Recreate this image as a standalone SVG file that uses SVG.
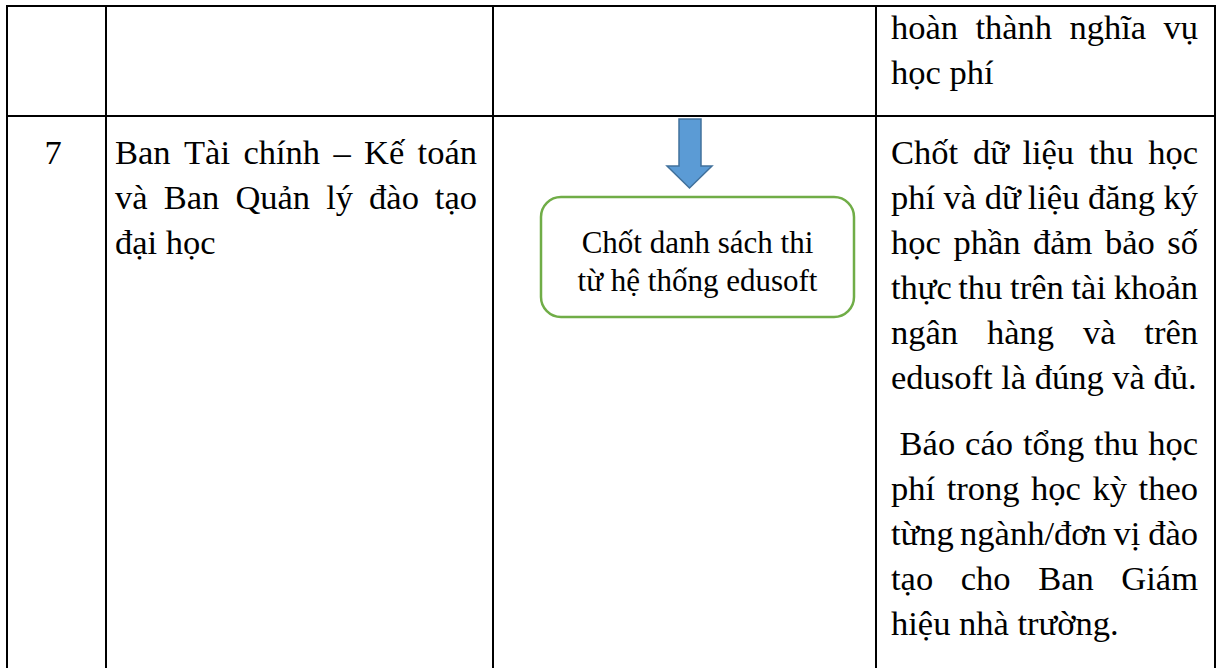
<svg xmlns="http://www.w3.org/2000/svg" width="1219" height="668" viewBox="0 0 1219 668">
<style>
.grid{stroke:#000;stroke-width:2;fill:none}
.t{font-family:"Liberation Serif","Times New Roman",serif;font-size:34.5px;fill:#000}
.bt{font-family:"Liberation Serif","Times New Roman",serif;font-size:31px;fill:#000}
.e{text-anchor:end}
.box{fill:#fff;stroke:#70AD47;stroke-width:2.5}
.arrow{fill:#5B9BD5;stroke:#41719C;stroke-width:1.5}
</style>
<rect width="1219" height="668" fill="#fff"/>
<g id="table">
<line class="grid" x1="6" y1="6" x2="1216" y2="6"/>
<line class="grid" x1="6" y1="116" x2="1216" y2="116"/>
<line class="grid" x1="7" y1="5" x2="7" y2="668"/>
<line class="grid" x1="106" y1="5" x2="106" y2="668"/>
<line class="grid" x1="493" y1="5" x2="493" y2="668"/>
<line class="grid" x1="876" y1="5" x2="876" y2="668"/>
<line class="grid" x1="1215" y1="5" x2="1215" y2="668"/>
</g>
<g id="row1-note" class="t">
<text y="39"><tspan x="891">hoàn</tspan><tspan x="975.4">thành</tspan><tspan x="1069.4">nghĩa</tspan></text>
<text x="1198" y="39" class="e">vụ</text>
<text x="891" y="84">học phí</text>
</g>
<g id="row7-number" class="t">
<text x="53" y="164" text-anchor="middle">7</text>
</g>
<g id="row7-unit" class="t">
<text y="164"><tspan x="115">Ban</tspan><tspan x="184">Tài</tspan><tspan x="243.4">chính</tspan><tspan x="333.5">–</tspan><tspan x="364.1">Kế</tspan></text>
<text x="477" y="164" class="e">toán</text>
<text y="209"><tspan x="115">và</tspan><tspan x="163.7">Ban</tspan><tspan x="235.4">Quản</tspan><tspan x="326.2">lý</tspan><tspan x="369.1">đào</tspan></text>
<text x="477" y="209" class="e">tạo</text>
<text x="115" y="254">đại học</text>
</g>
<g id="row7-note" class="t">
<text y="164"><tspan x="891">Chốt</tspan><tspan x="973">dữ</tspan><tspan x="1022.4">liệu</tspan><tspan x="1089.1">thu</tspan></text>
<text x="1198" y="164" class="e">học</text>
<text y="209"><tspan x="891">phí</tspan><tspan x="943.6">và</tspan><tspan x="984.7">dữ</tspan><tspan x="1027.7">liệu</tspan><tspan x="1087.9">đăng</tspan></text>
<text x="1198" y="209" class="e">ký</text>
<text y="254"><tspan x="891">học</tspan><tspan x="953.4">phần</tspan><tspan x="1033">đảm</tspan><tspan x="1105">bảo</tspan></text>
<text x="1198" y="254" class="e">số</text>
<text y="299"><tspan x="891">thực</tspan><tspan x="958.2">thu</tspan><tspan x="1010.1">trên</tspan><tspan x="1071.5">tài</tspan></text>
<text x="1198" y="299" class="e">khoản</text>
<text y="344"><tspan x="891">ngân</tspan><tspan x="987">hàng</tspan><tspan x="1083">và</tspan></text>
<text x="1198" y="344" class="e">trên</text>
<text x="891" y="389">edusoft là đúng và đủ.</text>
<text y="455"><tspan x="899.6">Báo</tspan><tspan x="965.1">cáo</tspan><tspan x="1022.9">tổng</tspan><tspan x="1094.1">thu</tspan></text>
<text x="1198" y="455" class="e">học</text>
<text y="500"><tspan x="891">phí</tspan><tspan x="946.7">trong</tspan><tspan x="1031.1">học</tspan><tspan x="1092.5">kỳ</tspan></text>
<text x="1198" y="500" class="e">theo</text>
<text y="545"><tspan x="891">từng</tspan><tspan x="960.1">ngành/đơn</tspan><tspan x="1113.6">vị</tspan></text>
<text x="1198" y="545" class="e">đào</text>
<text y="590"><tspan x="891">tạo</tspan><tspan x="960.8">cho</tspan><tspan x="1038.2">Ban</tspan></text>
<text x="1198" y="590" class="e">Giám</text>
<text x="891" y="635">hiệu nhà trường.</text>
</g>
<g id="connectors">
<path class="arrow" d="M679,119 H701 V166 H712 L689.5,188 L667,166 H679 Z"/>
</g>
<g id="node-chot-danh-sach">
<rect class="box" x="541" y="197" width="313" height="120" rx="20" ry="20"/>
<text class="bt" x="697.5" y="253" text-anchor="middle">Chốt danh sách thi</text>
<text class="bt" x="697.5" y="291" text-anchor="middle">từ hệ thống edusoft</text>
</g>
</svg>
